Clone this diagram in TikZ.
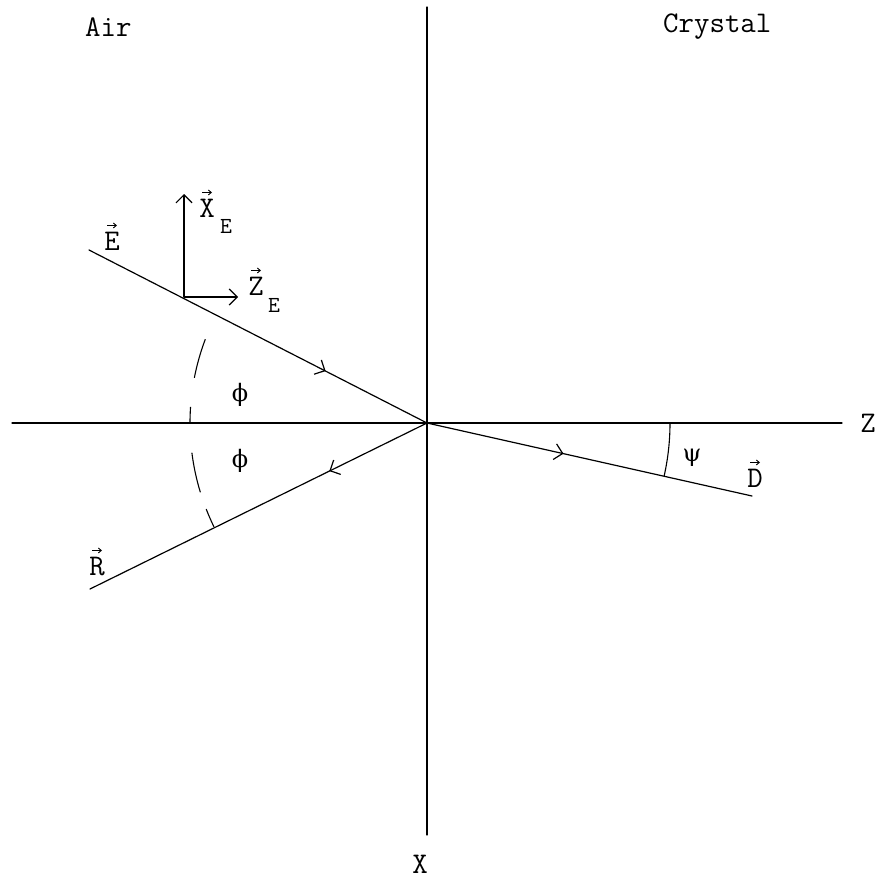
\documentclass[tikz,border=0pt]{standalone}
\usepackage{fontspec}
\newfontfamily\grk{DejaVu Serif}
\usetikzlibrary{arrows.meta,decorations.markings}
\begin{document}
\begin{tikzpicture}[x=1pt,y=1pt,
  ln/.style={line width=1.2pt,line cap=round},
  barb/.style={-{Straight Barb[length=8pt,width=16pt,line width=1.2pt]}},
  midarrow/.style={postaction={decorate},decoration={markings,
     mark=at position #1 with {\arrow{Straight Barb[length=8pt,width=16pt,line width=1.2pt]}}}},
  overarrow/.style={line width=0.9pt,-{Straight Barb[length=3pt,width=5pt,line width=0.9pt]}},
  lab/.style={font=\fontsize{30}{34}\selectfont\ttfamily,inner sep=0pt},
  sublab/.style={font=\fontsize{23}{27}\selectfont\ttfamily,inner sep=0pt},
  greek/.style={font=\fontsize{24}{28}\selectfont\grk,inner sep=0pt},
  arcstyle/.style={line width=1.1pt}]
\useasboundingbox (0,0) rectangle (877,-880);
% coordinates
\coordinate (O) at (427,-423);
\coordinate (Xtop) at (427,-7);
\coordinate (Xbot) at (427,-835);
\coordinate (Zl) at (12,-423);
\coordinate (Zr) at (842,-423);
\coordinate (Es) at (89,-250);
\coordinate (Re) at (90,-589);
\coordinate (De) at (752,-496);
\coordinate (P) at (184,-297);
\coordinate (XEtip) at (184,-194);
\coordinate (ZEtip) at (238,-297);
% axes
\draw[ln] (Xtop) -- (Xbot);
\draw[ln] (Zl) -- (Zr);
% rays
\draw[ln,midarrow=0.70] (Es) -- (O);
\draw[ln,midarrow=0.29] (O) -- (Re);
\draw[ln,midarrow=0.42] (O) -- (De);
% local frame
\draw[ln,barb] (P) -- (XEtip);
\draw[ln,barb] (P) -- (ZEtip);
% phi arcs (dashed)
\draw[arcstyle] (O) ++(159.3:237) arc[start angle=159.3,end angle=169,radius=237];
\draw[arcstyle] (O) ++(176.1:237) arc[start angle=176.1,end angle=180,radius=237];
\draw[arcstyle] (O) ++(187.2:237) arc[start angle=187.2,end angle=197,radius=237];
\draw[arcstyle] (O) ++(201.3:237) arc[start angle=201.3,end angle=206,radius=237];
% psi arc
\draw[arcstyle] (O) ++(0:243) arc[start angle=0,end angle=-12.6,radius=243];
% labels
\node[lab,anchor=base west] (air) at (85,-37) {Air};
\node[lab,anchor=base west] (crys) at (663,-33) {Crystal};
\node[lab,anchor=base] (xlab) at (420,-873) {X};
\node[lab,anchor=base] (zlab) at (868,-432) {Z};
\node[lab,anchor=base] (elab) at (112,-250) {E};
\node[lab,anchor=base] (xe) at (207,-217) {X};
\node[sublab,anchor=base] (xesub) at (226,-233) {E};
\node[lab,anchor=base] (ze) at (256,-295) {Z};
\node[sublab,anchor=base] (zesub) at (274,-312) {E};
\node[lab,anchor=base] (rlab) at (97,-575) {R};
\node[lab,anchor=base] (dlab) at (755,-487) {D};
\draw[overarrow] ([xshift=-5pt,yshift=6pt]elab.north) -- ++(10pt,0);
\draw[overarrow] ([xshift=-5pt,yshift=6pt]xe.north) -- ++(10pt,0);
\draw[overarrow] ([xshift=-5pt,yshift=6pt]ze.north) -- ++(10pt,0);
\draw[overarrow] ([xshift=-5pt,yshift=6pt]rlab.north) -- ++(10pt,0);
\draw[overarrow] ([xshift=-5pt,yshift=6pt]dlab.north) -- ++(10pt,0);
\node[greek] (phi1) at (240,-395) {ϕ};
\node[greek] (phi2) at (240,-461) {ϕ};
\node[greek] (psi) at (692,-458) {ψ};
\end{tikzpicture}
\end{document}
